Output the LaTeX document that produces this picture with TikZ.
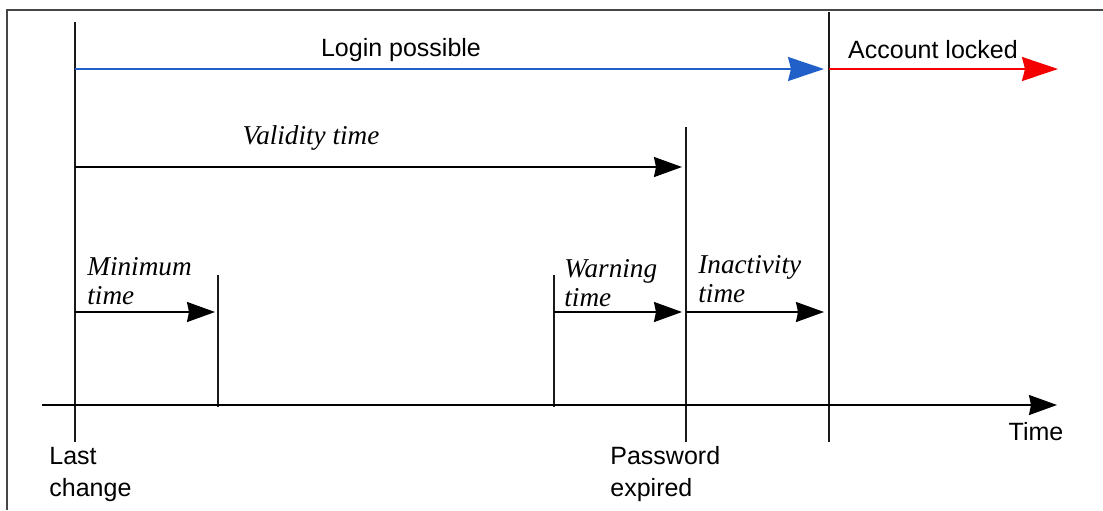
\documentclass[tikz,border=0pt]{standalone}
\usepackage{fontspec}
\setmainfont{Liberation Sans}
\newfontfamily\serifit{Liberation Serif}
\usetikzlibrary{arrows.meta,positioning}
\definecolor{loginblue}{RGB}{33,96,200}
\definecolor{lockred}{RGB}{245,0,0}
\definecolor{framegray}{RGB}{70,70,70}

\tikzset{
  mark line/.style={black!90, line width=0.9pt},
  span arrow/.style={black, line width=0.9pt, -{Stealth[length=14pt,width=10pt,inset=1pt]}},
  phase arrow/.style={line width=0.9pt, -{Stealth[length=18pt,width=12pt,inset=1.5pt]}},
  sans label/.style={font=\fontsize{12.5}{16}\selectfont, inner sep=0pt, align=left},
  it label/.style={font=\fontsize{13.6}{14.5}\selectfont\serifit\itshape, inner sep=0pt, align=left, anchor=west},
}

\begin{document}
\begin{tikzpicture}[x=0.5pt, y=-0.5pt]
    \useasboundingbox (0,0) rectangle (1103,510);
    % Rahmen (nur oben und links sichtbar)
    \draw[framegray, line width=1.3pt] (7,510) -- (7,10) -- (1103,10);
    % senkrechte Markierungen
    \foreach \nm/\x/\ya/\yb in {lc/75/22/442, mn/218/275/407, wn/554/275/407, pe/686/127/442, al/829/12/442} {
        \coordinate (\nm-t) at (\x,\ya);
        \coordinate (\nm-b) at (\x,\yb);
        \draw[mark line] (\nm-t) -- (\nm-b);
    }
    % Zeitachse
    \coordinate (ax-s) at (42,405);
    \coordinate (ax-e) at (1057,405);
    \draw[span arrow] (ax-s) -- (ax-e);
    \node[sans label] (time) at (1036,432) {Time};
    % Phasen oben
    \coordinate (login-s) at (75,69);
    \coordinate (login-e) at (824,69);
    \coordinate (lock-s) at (829,69);
    \coordinate (lock-e) at (1058,69);
    \draw[phase arrow, loginblue] (login-s) -- (login-e);
    \draw[phase arrow, lockred] (lock-s) -- (lock-e);
    \node[sans label] (login) at (401,50) {Login possible};
    \node[sans label] (locked) at (933,50) {Account locked};
    % Zeitspannen
    \coordinate (val-s) at (75,167);
    \coordinate (val-e) at (682,167);
    \draw[span arrow] (val-s) -- (val-e);
    \node[it label, anchor=center] (validity) at (311,138) {Validity time};
    \foreach \nm/\xa/\xb in {min/75/215, warn/554/682, inact/686/824} {
        \coordinate (\nm-s) at (\xa,312);
        \coordinate (\nm-e) at (\xb,312);
        \draw[span arrow] (\nm-s) -- (\nm-e);
    }
    \node[it label] (minimum) at (87,281) {Minimum\\time};
    \node[it label] (warning) at (564,283) {Warning\\time};
    \node[it label] (inactivity) at (698,279) {Inactivity\\time};
    % Beschriftung unten
    \node[sans label, anchor=west] (lastchange) at (49,474) {Last\\change};
    \node[sans label, anchor=west] (expired) at (610,474) {Password\\expired};
\end{tikzpicture}
\end{document}
